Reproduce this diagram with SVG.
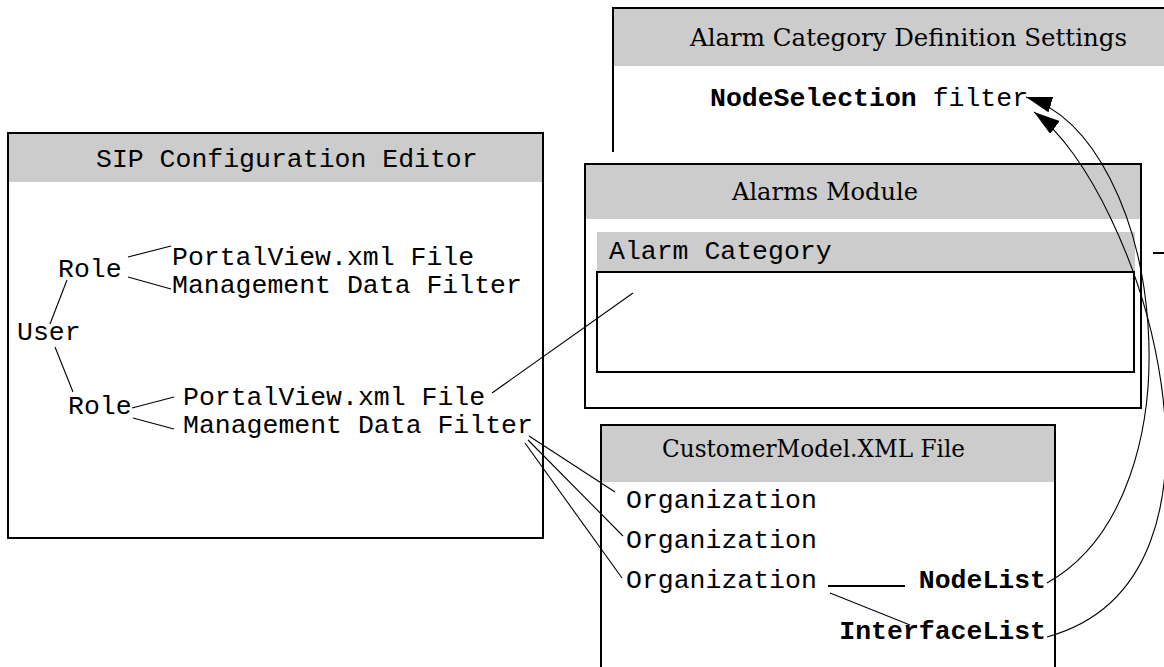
<svg xmlns="http://www.w3.org/2000/svg" width="1164" height="667" viewBox="0 0 1164 667">
<style>
.box{fill:#fff;stroke:#000;stroke-width:2}
.hdr{fill:#ccc}
.edge{fill:none;stroke:#000;stroke-width:2}
.mono{font-family:"Liberation Mono","Courier New",monospace;font-size:26.5px;fill:#000}
.b{font-weight:bold}
.serif{font-family:"DejaVu Serif","Liberation Serif",serif;font-size:23.5px;fill:#000}
.ln{fill:none;stroke:#000;stroke-width:1.1}
</style>
<defs>
<marker id="arr" markerUnits="userSpaceOnUse" markerWidth="30" markerHeight="20" refX="26" refY="8" orient="auto">
<path d="M0,0 L26,8 L0,16 Z" fill="#000"/>
</marker>
</defs>
<rect width="1164" height="667" fill="#fff"/>

<g id="alarm-category-definition-settings">
<rect x="613" y="8" width="560" height="150" fill="#fff"/>
<rect class="hdr" x="614" y="9" width="560" height="57"/>
<path class="edge" d="M613,152 V8 H1170"/>
<text class="serif" x="690" y="46" textLength="437" lengthAdjust="spacingAndGlyphs">Alarm Category Definition Settings</text>
<text class="mono" x="710" y="106"><tspan class="b">NodeSelection</tspan> filter</text>
</g>

<g id="alarms-module">
<rect class="box" x="585" y="164" width="556" height="244"/>
<rect class="hdr" x="586" y="165" width="554" height="54"/>
<rect class="hdr" x="597" y="232" width="538" height="40"/>
<text class="serif" x="732" y="200" textLength="186" lengthAdjust="spacingAndGlyphs">Alarms Module</text>
<text class="mono" x="609" y="259">Alarm Category</text>
<rect class="box" x="597" y="272" width="537" height="100"/>
</g>

<g id="offcanvas-stub">
<path class="edge" d="M1153,253 H1166"/>
</g>

<g id="customermodel-xml-file">
<path class="box" d="M601,670 V425 H1055 V670"/>
<rect class="hdr" x="602" y="426" width="452" height="56"/>
<text class="serif" x="662" y="457" textLength="303" lengthAdjust="spacingAndGlyphs">CustomerModel.XML File</text>
<text class="mono" x="626" y="508">Organization</text>
<text class="mono" x="626" y="548">Organization</text>
<text class="mono" x="626" y="588">Organization</text>
<text class="mono b" x="1046" y="588" text-anchor="end">NodeList</text>
<text class="mono b" x="1046" y="639" text-anchor="end">InterfaceList</text>
</g>

<g id="sip-configuration-editor">
<rect class="box" x="8" y="133" width="535" height="405"/>
<rect class="hdr" x="9" y="134" width="533" height="48"/>
<text class="mono" x="96" y="167">SIP Configuration Editor</text>
<text class="mono" x="58" y="277">Role</text>
<text class="mono" x="172" y="265">PortalView.xml File</text>
<text class="mono" x="172" y="293">Management Data Filter</text>
<text class="mono" x="17" y="340">User</text>
<text class="mono" x="68" y="414">Role</text>
<text class="mono" x="183" y="405">PortalView.xml File</text>
<text class="mono" x="183" y="433">Management Data Filter</text>
</g>

<g id="connectors">
<path class="ln" d="M128,257 L171,246"/>
<path class="ln" d="M128,277 L171,289"/>
<path class="ln" d="M67,280 L50,324"/>
<path class="ln" d="M55,347 L73,392"/>
<path class="ln" d="M132,408 L174,397"/>
<path class="ln" d="M133,418 L174,429"/>
<path class="ln" d="M492,393 L633,293"/>
<path class="ln" d="M529,436 L615,492"/>
<path class="ln" d="M528,440 L623,536"/>
<path class="ln" d="M525,443 L622,578"/>
<path class="edge" d="M828,586 H905"/>
<path class="ln" d="M830,593 L910,625"/>
<path class="ln" marker-end="url(#arr)" d="M1047,583 C1205,495 1165,140 1026,97"/>
<path class="ln" marker-end="url(#arr)" d="M1047,637 C1262,578 1140,190 1034,112"/>
</g>
</svg>
